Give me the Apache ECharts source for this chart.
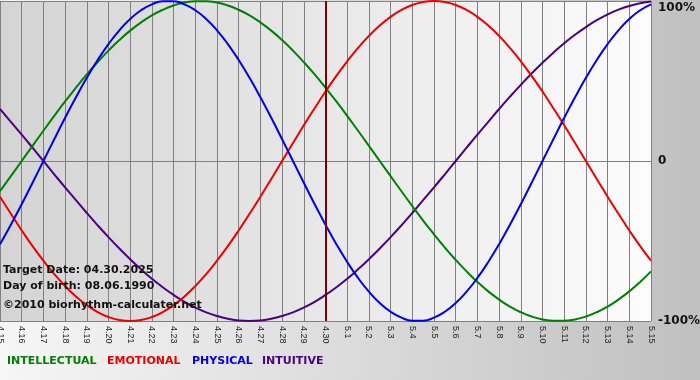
<!DOCTYPE html>
<html>
<head>
<meta charset="utf-8">
<script src="https://cdn.jsdelivr.net/npm/echarts@6/dist/echarts.min.js"></script>
<style>html,body{margin:0;padding:0;}#c{width:700px;height:380px;}</style>
</head>
<body>
<div id="c"></div>
<script>
// day labels (one per day); series are read every half day (2 values per day)
var categories = ['4.15','4.16','4.17','4.18','4.19','4.20','4.21','4.22','4.23','4.24','4.25','4.26','4.27','4.28','4.29','4.30','5.1','5.2','5.3','5.4','5.5','5.6','5.7','5.8','5.9','5.10','5.11','5.12','5.13','5.14','5.15'];
var physical = [-52.0,-39.8,-27.0,-13.6,0,13.6,27.0,39.8,52.0,63.1,73.1,81.7,88.8,94.2,97.9,99.8,99.8,97.9,94.2,88.8,81.7,73.1,63.1,52.0,39.8,27.0,13.6,0,-13.6,-27.0,-39.8,-52.0,-63.1,-73.1,-81.7,-88.8,-94.2,-97.9,-99.8,-99.8,-97.9,-94.2,-88.8,-81.7,-73.1,-63.1,-52.0,-39.8,-27.0,-13.6,0,13.6,27.0,39.8,52.0,63.1,73.1,81.7,88.8,94.2,97.9];
var emotional = [-22.3,-33.0,-43.4,-53.2,-62.3,-70.7,-78.2,-84.7,-90.1,-94.4,-97.5,-99.4,-100,-99.4,-97.5,-94.4,-90.1,-84.7,-78.2,-70.7,-62.3,-53.2,-43.4,-33.0,-22.3,-11.2,0,11.2,22.3,33.0,43.4,53.2,62.3,70.7,78.2,84.7,90.1,94.4,97.5,99.4,100,99.4,97.5,94.4,90.1,84.7,78.2,70.7,62.3,53.2,43.4,33.0,22.3,11.2,0,-11.2,-22.3,-33.0,-43.4,-53.2,-62.3];
var intellectual = [-18.9,-9.5,0,9.5,18.9,28.2,37.2,45.8,54.1,61.8,69.0,75.6,81.5,86.6,91.0,94.5,97.2,99.0,99.9,99.9,99.0,97.2,94.5,91.0,86.6,81.5,75.6,69.0,61.8,54.1,45.8,37.2,28.2,18.9,9.5,0,-9.5,-18.9,-28.2,-37.2,-45.8,-54.1,-61.8,-69.0,-75.6,-81.5,-86.6,-91.0,-94.5,-97.2,-99.0,-99.9,-99.9,-99.0,-97.2,-94.5,-91.0,-86.6,-81.5,-75.6,-69.0];
var intuitive = [32.5,24.5,16.5,8.3,0,-8.3,-16.5,-24.5,-32.5,-40.2,-47.6,-54.7,-61.4,-67.7,-73.6,-78.9,-83.7,-88.0,-91.6,-94.6,-96.9,-98.6,-99.7,-100,-99.7,-98.6,-96.9,-94.6,-91.6,-88.0,-83.7,-78.9,-73.6,-67.7,-61.4,-54.7,-47.6,-40.2,-32.5,-24.5,-16.5,-8.3,0,8.3,16.5,24.5,32.5,40.2,47.6,54.7,61.4,67.7,73.6,78.9,83.7,88.0,91.6,94.6,96.9,98.6,99.7];
var yTicks = [-100, 0, 100];
var yTickLabels = ['-100%', '0', '100%'];
var targetDay = '4.30';
var infoLines = ['Target Date: 04.30.2025', 'Day of birth: 08.06.1990', '\u00a92010 biorhythm-calculater.net'];
var legendNames = ['INTELLECTUAL', 'EMOTIONAL', 'PHYSICAL', 'INTUITIVE'];
var colors = ['#008000', '#ee0000', '#0000ee', '#4b0082'];
var samplesPerDay = 2;

var chart = echarts.init(document.getElementById('c'), null, {renderer: 'canvas'});
var font = 'DejaVu Sans, Verdana, sans-serif';
var legendX = [7, 107, 192, 262];
var infoY = [272, 288, 307];

function toPairs(arr) {
  return arr.map(function (v, i) { return [i / samplesPerDay, v]; });
}

function mkSeries(name, data, color, extra) {
  var s = {
    name: name, type: 'line', data: toPairs(data), smooth: 0.5, symbol: 'none',
    lineStyle: {color: color, width: 2}, itemStyle: {color: color}
  };
  if (extra) for (var k in extra) s[k] = extra[k];
  return s;
}

var graphics = [];
infoLines.forEach(function (t, i) {
  graphics.push({type: 'text', left: 3, top: infoY[i] - 7, z: 100,
    style: {text: t, font: 'bold 11px ' + font, fill: '#111'}});
});
legendNames.forEach(function (t, i) {
  graphics.push({type: 'text', left: legendX[i], top: 356, z: 100,
    style: {text: t, font: 'bold 11px ' + font, fill: colors[i]}});
});

chart.setOption({
  animation: false,
  backgroundColor: new echarts.graphic.LinearGradient(0, 0, 1, 0, [
    {offset: 0, color: '#f6f6f6'}, {offset: 1, color: '#c0c0c0'}
  ]),
  grid: {
    left: 0, right: 49, top: 1, bottom: 59, show: true, borderWidth: 0,
    containLabel: false, outerBoundsMode: 'none',
    backgroundColor: new echarts.graphic.LinearGradient(0, 0, 1, 0, [
      {offset: 0, color: '#d4d4d4'}, {offset: 1, color: '#fcfcfc'}
    ])
  },
  xAxis: {
    type: 'value', min: 0, max: categories.length - 1, interval: 1,
    axisLine: {show: true, lineStyle: {color: '#808080', width: 1}},
    axisTick: {show: true, length: 4, lineStyle: {color: '#808080'}},
    splitLine: {show: true, lineStyle: {color: '#808080', width: 1}},
    axisLabel: {rotate: -90, margin: 5, fontSize: 9, hideOverlap: false,
      showMinLabel: true, showMaxLabel: true,
      fontFamily: 'Liberation Sans, Arial, sans-serif', color: '#222',
      formatter: function (v) { return categories[Math.round(v)] || ''; }}
  },
  yAxis: {
    type: 'value', position: 'right', min: -100, max: 100, interval: 100,
    axisLine: {show: false}, axisTick: {show: false},
    splitLine: {show: true, lineStyle: {color: '#808080', width: 1}},
    axisLabel: {
      margin: 7, fontSize: 12, fontWeight: 'bold', fontFamily: font, color: '#111',
      formatter: function (v) {
        var idx = yTicks.indexOf(v);
        var t = idx >= 0 ? yTickLabels[idx] : '';
        return v === 100 ? '{t|' + t + '}' : t;
      },
      rich: {t: {padding: [14, 0, 0, 0], fontSize: 12, fontWeight: 'bold', fontFamily: font, color: '#111'}}
    }
  },
  series: [
    mkSeries(legendNames[3], intuitive, colors[3]),
    mkSeries(legendNames[0], intellectual, colors[0]),
    mkSeries(legendNames[1], emotional, colors[1], {
      markLine: {silent: true, symbol: 'none', label: {show: false},
        lineStyle: {color: '#800000', width: 2, type: 'solid'},
        data: [{xAxis: categories.indexOf(targetDay)}]}
    }),
    mkSeries(legendNames[2], physical, colors[2])
  ],
  graphic: graphics
});
</script>
</body>
</html>
